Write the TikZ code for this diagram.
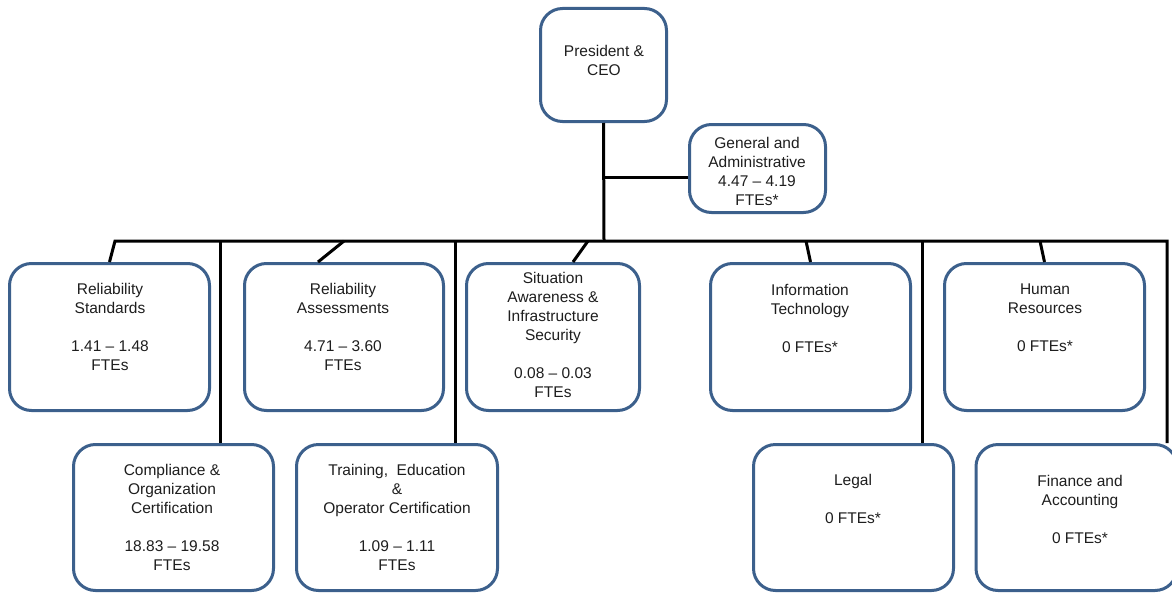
\documentclass[tikz,border=0pt]{standalone}
\usepackage{fontspec}
\setmainfont{Liberation Sans}
\usetikzlibrary{calc}
\definecolor{boxblue}{RGB}{60,96,140}
\definecolor{txt}{RGB}{30,30,30}
\begin{document}
\begin{tikzpicture}[x=1pt,y=-1pt,
  orgbox/.style={draw=boxblue, line width=3pt, rounded corners=22pt, fill=white, inner sep=0pt},
  lbl/.style={align=center, font=\fontsize{15.5}{19}\selectfont, text=txt, inner sep=0pt},
  conn/.style={draw=black, line width=3pt}]
\useasboundingbox (0,0) rectangle (1172,594);
% boxes
\node[orgbox, minimum width=126pt, minimum height=113pt] (pres) at (603.5,65) {};
\node[orgbox, minimum width=136pt, minimum height=88pt] (ga) at (757.5,168.5) {};
\node[orgbox, minimum width=200pt, minimum height=147pt] (rs) at (109.5,337) {};
\node[orgbox, minimum width=199pt, minimum height=147pt] (ra) at (344,337) {};
\node[orgbox, minimum width=173pt, minimum height=147pt] (sa) at (553,337) {};
\node[orgbox, minimum width=200pt, minimum height=147pt] (it) at (810.5,337) {};
\node[orgbox, minimum width=200pt, minimum height=147pt] (hr) at (1044.5,337) {};
\node[orgbox, minimum width=200pt, minimum height=146pt] (co) at (173.5,517.5) {};
\node[orgbox, minimum width=201pt, minimum height=146pt] (tr) at (397,517.5) {};
\node[orgbox, minimum width=200pt, minimum height=146pt] (le) at (853.5,517.5) {};
\node[orgbox, minimum width=201pt, minimum height=146pt] (fi) at (1076.5,517.5) {};
% texts
\node[lbl] (t-pres) at (604,60) {President \&\\CEO};
\node[lbl] (t-ga) at (757,171.5) {General and\\Administrative\\4.47 -- 4.19\\FTEs*};
\node[lbl] (t-rs) at (110,327) {Reliability\\Standards\\[19pt]1.41 -- 1.48\\FTEs};
\node[lbl] (t-ra) at (343,327) {Reliability\\Assessments\\[19pt]4.71 -- 3.60\\FTEs};
\node[lbl] (t-sa) at (553,335) {Situation\\Awareness \&\\Infrastructure\\Security\\[19pt]0.08 -- 0.03\\FTEs};
\node[lbl] (t-it) at (810,318) {Information\\Technology\\[19pt]0 FTEs*};
\node[lbl] (t-hr) at (1045,318) {Human\\Resources\\[19pt]0 FTEs*};
\node[lbl] (t-co) at (172,517) {Compliance \&\\Organization\\Certification\\[19pt]18.83 -- 19.58\\FTEs};
\node[lbl] (t-tr) at (397,517) {Training,\ \ Education\\\&\\Operator Certification\\[19pt]1.09 -- 1.11\\FTEs};
\node[lbl] (t-le) at (853,499) {Legal\\[19pt]0 FTEs*};
\node[lbl] (t-fi) at (1080,509) {Finance and\\Accounting\\[19pt]0 FTEs*};
% connector coordinates
\coordinate (busL) at (115,241);
\coordinate (busR) at (1167,241);
\coordinate (busC) at (604,241);
\coordinate (jga) at (604,177);
\coordinate (bra) at (344,241);
\coordinate (bsa) at (588,241);
\coordinate (bit) at (806,241);
\coordinate (bhr) at (1040,241);
\coordinate (vco) at (220,241);
\coordinate (vtr) at (455,241);
\coordinate (vle) at (922,241);
% connectors
\draw[conn] (pres.south) -- (busC);
\draw[conn] (jga) -- (jga -| ga.west);
\draw[conn, line join=miter] (rs.north) -- (busL) -- (busR) -- (busR |- fi.north);
\draw[conn] (bra) -- ($(ra.north)+(-26,0)$);
\draw[conn] (bsa) -- ($(sa.north)+(20,0)$);
\draw[conn] (bit) -- (it.north);
\draw[conn] (bhr) -- (hr.north);
\draw[conn] (vco) -- (vco |- co.north);
\draw[conn] (vtr) -- (vtr |- tr.north);
\draw[conn] (vle) -- (vle |- le.north);
\end{tikzpicture}
\end{document}
